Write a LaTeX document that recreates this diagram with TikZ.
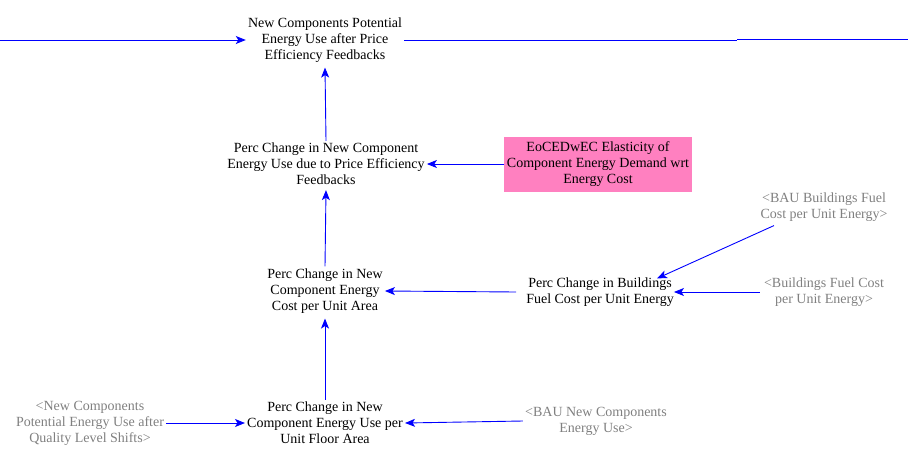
\documentclass[tikz,border=0pt]{standalone}
\usepackage{fontspec}
\setmainfont{Liberation Serif}
\usetikzlibrary{arrows.meta}
\definecolor{vblue}{RGB}{0,0,255}
\definecolor{vpink}{RGB}{255,128,192}
\definecolor{vgray}{RGB}{128,128,128}
\begin{document}
\begin{tikzpicture}[x=1pt,y=-1pt,
  lbl/.style={align=center,inner sep=2pt,font=\fontsize{14pt}{16pt}\selectfont},
  shadow/.style={lbl,text=vgray},
  box/.style={lbl,fill=vpink,draw=vpink,minimum width=187pt,minimum height=54pt},
  arr/.style={draw=vblue,line width=0.9pt,-{Stealth[length=10pt,width=8pt,inset=2.5pt]}},
  pipe/.style={draw=vblue,line width=1pt}]
\useasboundingbox (0,0) rectangle (908,458);
\node[lbl] (top) at (325,40) {New Components Potential\\Energy Use after Price\\Efficiency Feedbacks};
\node[lbl] (use) at (326,164) {Perc Change in New Component\\Energy Use due to Price Efficiency\\Feedbacks};
\node[box] (elast) at (598,164) {EoCEDwEC Elasticity of\\Component Energy Demand wrt\\Energy Cost};
\node[lbl] (cost) at (325,291) {Perc Change in New\\Component Energy\\Cost per Unit Area};
\node[lbl] (fuel) at (600,292) {Perc Change in Buildings\\Fuel Cost per Unit Energy};
\node[shadow] (baufuel) at (824,207) {<BAU Buildings Fuel\\Cost per Unit Energy>};
\node[shadow] (bfuel) at (824,292) {<Buildings Fuel Cost\\per Unit Energy>};
\node[lbl] (floor) at (325,423) {Perc Change in New\\Component Energy Use per\\Unit Floor Area};
\node[shadow] (newcomp) at (90,423) {<New Components\\Potential Energy Use after\\Quality Level Shifts>};
\node[shadow] (baunew) at (596,421) {<BAU New Components\\Energy Use>};
\coordinate (lin) at (0,40);
\coordinate (rmid) at (737,40);
\coordinate (rmid2) at (737,39);
\coordinate (rout) at (908,39);
\draw[arr] (lin) -- (top.west);
\draw[pipe] (top.east) -- (rmid);
\draw[pipe] (rmid2) -- (rout);
\draw[arr] (use.north) -- ([yshift=-3pt]top.south);
\draw[arr] (elast.west) -- (use.east);
\draw[arr] (cost.north) -- ([yshift=-3pt]use.south);
\draw[arr] ([xshift=-8pt]fuel.west) -- (cost.east);
\draw[arr] ([xshift=-50pt,yshift=-2pt]baufuel.south) -- ([xshift=57pt,yshift=-3pt]fuel.north);
\draw[arr] ([xshift=-2pt]bfuel.west) -- ([xshift=-2pt]fuel.east);
\draw[arr] (floor.north) -- ([yshift=-3pt]cost.south);
\draw[arr] (newcomp.east) -- (floor.west);
\draw[arr] (baunew.west) -- (floor.east);
\end{tikzpicture}
\end{document}
